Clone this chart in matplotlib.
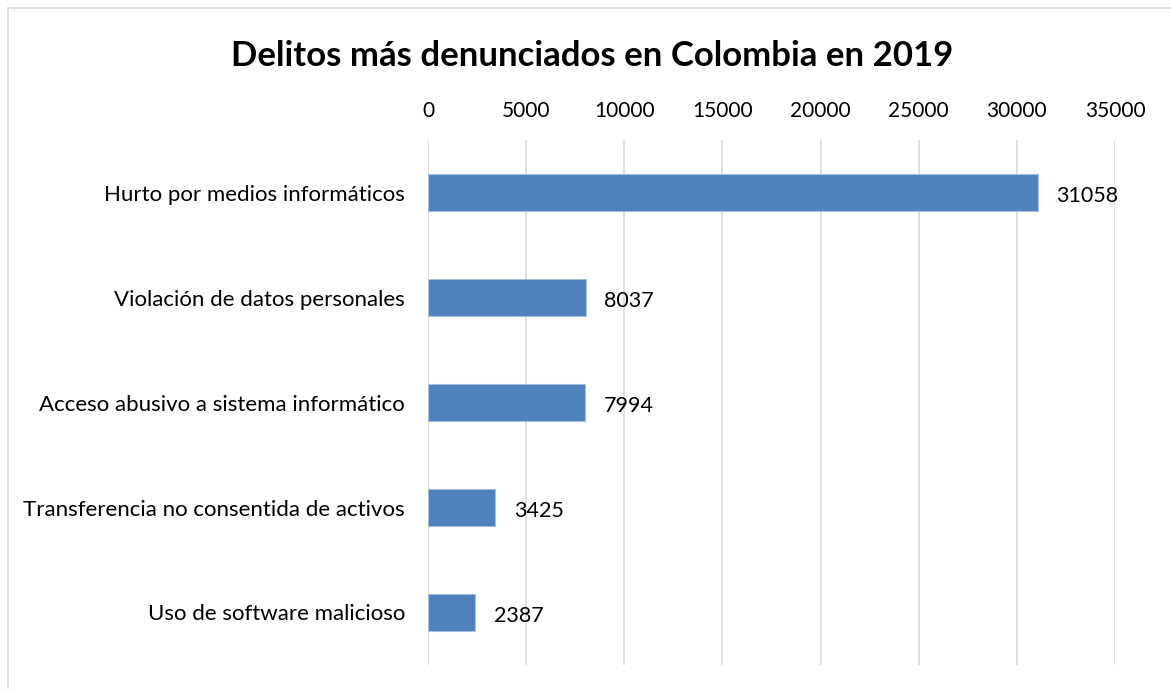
import matplotlib
matplotlib.use("Agg")
import matplotlib.pyplot as plt
from matplotlib.lines import Line2D

categories = ["Hurto por medios informáticos", "Violación de datos personales",
              "Acceso abusivo a sistema informático", "Transferencia no consentida de activos",
              "Uso de software malicioso"]
values = [31058, 8037, 7994, 3425, 2387]
ticks = [0, 5000, 10000, 15000, 20000, 25000, 30000, 35000]

plt.rcParams['font.family'] = ['Lato', 'DejaVu Sans']

W, H = 1171, 689
fig = plt.figure(figsize=(W/100, H/100), dpi=100)
ax = fig.add_axes([428/W, 1-665/H, (1115-428)/W, (665-140)/H])

y = list(range(len(categories)))
ax.barh(y, values, height=0.36, color="#4f81bd", edgecolor="#a7bfde", linewidth=0.8, zorder=3)
ax.set_ylim(4.5, -0.5)
ax.set_xlim(0, 35000)
ax.set_xticks(ticks)
ax.set_xticklabels([str(t) for t in ticks], fontsize=15)
ax.xaxis.tick_top()
ax.tick_params(axis='x', length=0, pad=14)
ax.set_yticks(y)
ax.set_yticklabels(categories, fontsize=16)
ax.tick_params(axis='y', length=0, pad=16.5)
ax.grid(axis='x', color="#d9d9d9", linewidth=1.2, zorder=0)
for s in ax.spines.values():
    s.set_visible(False)
ax.axvline(0, color="#d9d9d9", linewidth=1.2, zorder=1)

for yi, v in zip(y, values):
    ax.text(v + 950, yi + 0.03, str(v), va='center', ha='left', fontsize=15.5, zorder=4)

fig.text(592/W, 1-56/H, "Delitos más denunciados en Colombia en 2019",
         ha='center', va='center', fontsize=25, fontweight='bold')

# outer chart border
fig.add_artist(Line2D([8/W, 8/W], [0, 1-8/H], color="#d9d9d9", linewidth=1.2))
fig.add_artist(Line2D([8/W, 1], [1-8/H, 1-8/H], color="#d9d9d9", linewidth=1.2))

fig.savefig("out.png", dpi=100)
